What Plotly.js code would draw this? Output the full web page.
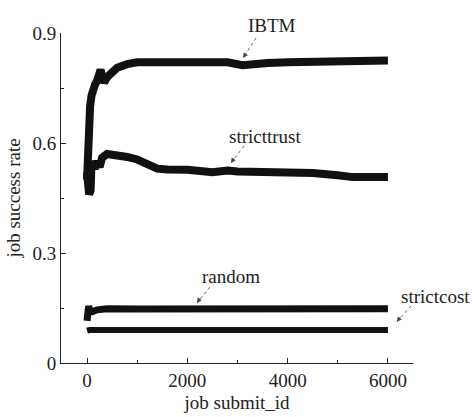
<!DOCTYPE html>
<html><head><meta charset="utf-8">
<script src="https://cdn.plot.ly/plotly-3.0.1.min.js"></script>
<style>html,body{margin:0;padding:0;background:#fff}#c{width:474px;height:417px}</style>
</head><body><div id="c"></div>
<script>
var ibtmX = [0, 20, 40, 60, 90, 120, 160, 200, 240, 270, 300, 340, 400, 500, 600, 800, 1000, 1500, 2000, 2500, 2800, 3100, 3300, 3600, 4000, 4500, 5000, 5500, 6000];
var ibtmY = [0.50, 0.60, 0.66, 0.70, 0.73, 0.75, 0.76, 0.77, 0.79, 0.80, 0.78, 0.765, 0.78, 0.795, 0.805, 0.815, 0.82, 0.82, 0.82, 0.822, 0.82, 0.812, 0.815, 0.818, 0.82, 0.82, 0.82, 0.82, 0.825];
var trustX = [0, 20, 40, 70, 90, 120, 160, 200, 250, 300, 400, 600, 800, 1000, 1200, 1400, 1600, 2000, 2500, 2800, 3000, 3500, 4000, 4500, 5000, 5300, 6000];
var trustY = [0.52, 0.47, 0.46, 0.47, 0.55, 0.54, 0.53, 0.55, 0.535, 0.56, 0.57, 0.567, 0.562, 0.555, 0.54, 0.53, 0.528, 0.527, 0.52, 0.525, 0.522, 0.522, 0.52, 0.518, 0.512, 0.507, 0.507];
var randX = [0, 30, 60, 100, 200, 400, 1000, 2000, 3000, 4000, 5000, 6000];
var randY = [0.115, 0.155, 0.14, 0.14, 0.145, 0.148, 0.147, 0.147, 0.147, 0.147, 0.147, 0.148];
var costX = [0, 50, 200, 1000, 2000, 3000, 4000, 5000, 6000];
var costY = [0.088, 0.09, 0.09, 0.09, 0.09, 0.09, 0.09, 0.09, 0.09];
var labels = ["IBTM", "stricttrust", "random", "strictcost"];

var font = {family: "Liberation Serif, Times New Roman, serif", size: 19, color: "#222"};
// label placement (paper units) and pointer tail -> head (data units)
var labelPX = [0.599, 0.580, 0.483, 1.0625];
var labelPY = [1.024, 0.685, 0.261, 0.203];
var tailX = [3369, 3130, 2451, 6460];
var tailY = [0.886, 0.592, 0.207, 0.1555];
var headX = [3110, 2870, 2192, 6181];
var headY = [0.832, 0.5455, 0.1636, 0.112];

function tr(x, y, w, name) {
  return {x: x, y: y, mode: "lines", name: name, line: {color: "#111", width: w}, hoverinfo: "skip"};
}
var data = [
  tr(ibtmX, ibtmY, 8, labels[0]),
  tr(trustX, trustY, 8, labels[1]),
  tr(randX, randY, 7, labels[2]),
  tr(costX, costY, 6, labels[3])
];
var annotations = [], shapes = [];
for (var i = 0; i < labels.length; i++) {
  annotations.push({text: labels[i], x: labelPX[i], y: labelPY[i], xref: "paper", yref: "paper",
    showarrow: false, font: font, xanchor: "center", yanchor: "middle"});
  shapes.push({type: "line", xref: "x", yref: "y", x0: tailX[i], y0: tailY[i], x1: headX[i], y1: headY[i],
    line: {color: "#666", width: 1, dash: "dot"}});
  annotations.push({text: "", x: headX[i], y: headY[i], xref: "x", yref: "y",
    ax: 4, ay: -6, showarrow: true, arrowhead: 2, arrowsize: 1, arrowwidth: 1, arrowcolor: "#444"});
}
var layout = {
  width: 474, height: 417,
  margin: {l: 61, r: 61, t: 33, b: 54},
  paper_bgcolor: "#fff", plot_bgcolor: "#fff",
  showlegend: false,
  font: font,
  xaxis: {range: [-520, 6500], tickvals: [0, 2000, 4000, 6000], ticks: "inside", ticklen: 5, tickcolor: "#222",
    showline: true, linecolor: "#222", linewidth: 1, showgrid: false, zeroline: false,
    minor: {tickvals: [1000, 3000, 5000], ticks: "inside", ticklen: 3, tickcolor: "#222", showgrid: false},
    title: {text: "job submit_id", font: font, standoff: 5}, tickfont: font},
  yaxis: {range: [0, 0.9], tickvals: [0, 0.3, 0.6, 0.9], ticktext: ["0", "0.3", "0.6", "0.9"], ticks: "inside", ticklen: 5, tickcolor: "#222",
    showline: true, linecolor: "#222", linewidth: 1, showgrid: false, zeroline: false,
    minor: {tickvals: [0.15, 0.45, 0.75], ticks: "inside", ticklen: 3, tickcolor: "#222", showgrid: false},
    title: {text: "job success rate", font: font, standoff: 6}, tickfont: font},
  shapes: shapes,
  annotations: annotations
};
Plotly.newPlot("c", data, layout, {displayModeBar: false, staticPlot: true});
</script></body></html>
